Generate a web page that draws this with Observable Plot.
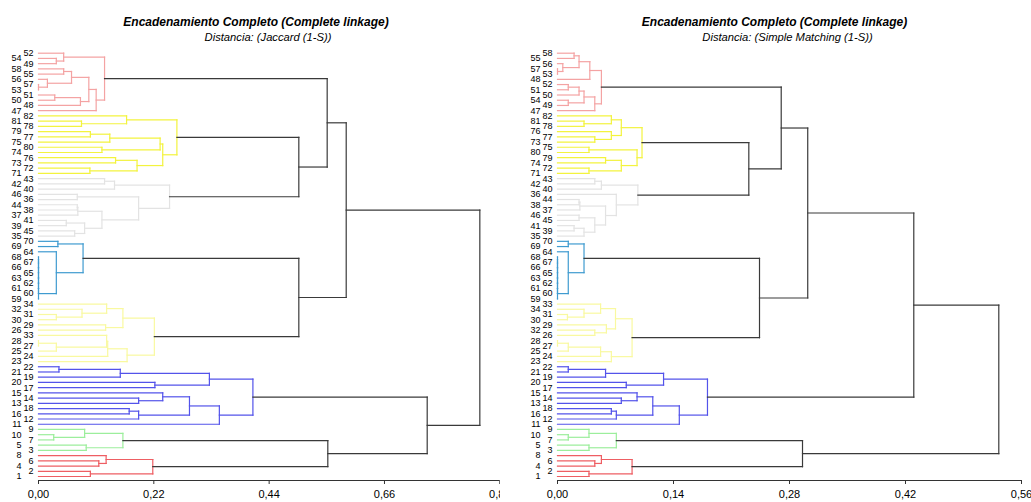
<!DOCTYPE html>
<html><head><meta charset="utf-8">
<script src="https://cdn.jsdelivr.net/npm/d3@7"></script>
<script src="https://cdn.jsdelivr.net/npm/@observablehq/plot@0.6"></script>
<style>
body{margin:0;background:#fff;font-family:"Liberation Sans",Arial,sans-serif;}
#wrap{position:relative;width:1031px;height:502px;overflow:hidden;background:#fff}
.panel{position:absolute;top:45px;height:457px;overflow:hidden}
.ttl{position:absolute;white-space:nowrap;transform:translateX(-50%);color:#000}
.t1{font-weight:bold;font-style:italic;font-size:12px;line-height:14px;top:15px}
.t2{font-style:italic;font-size:11.2px;line-height:13px;top:30.5px}
</style></head><body><div id="wrap"></div>
<script>
// ---------- data: Jaccard (left) ----------
const jacRed      = [0.218, [0.099, 1, 2], [0.129, [0.115, 4, 6], 8]];
const jacGreen    = [0.161, [0.091, 3, 5], [0.088, [0.029, 7, 10], 9]];
const jacBlue     = [0.409, [0.345, 11, [0.288, [0.191, 12, [0.173, 16, 18]], [0.237, [0.191, 13, 14], 15]]],
                            [0.326, [0.222, 17, 20], [0.156, 19, [0.039, 21, 22]]]];
const jacLtYellow = [0.221, [0.169, 23, [0.132, 24, [0.130, [0.034, 25, [0, 27, 28]], 33]]],
                            [0.161, [0.128, 26, 29], [0.130, [0.083, [0.034, 30, 31], 32], 34]]];
const jacTeal     = [0.085, [0.034, [0, 59, [0, 60, [0, 61, [0, 62, [0, 63, [0, 65, [0, 66, [0, 67, 68]]]]]]]], 64],
                            [0.037, 69, 70]];
const jacGrey     = [0.250, [0.191, [0.121, [0.088, [0.069, 35, 45], [0.053, 39, 41]], [0.075, 37, [0.074, 38, 44]]],
                            [0.074, 36, 46]], [0.145, 40, [0.126, 42, 43]]];
const jacYellow   = [0.264, [0.237, [0.188, [0.098, 71, 72], [0.147, 73, 76]],
                            [0.232, [0.121, 74, 80], [0.136, 75, [0.099, 77, 79]]]], [0.168, [0.082, 78, 81], 82]];
const jacPink     = [0.126, [0.110, 47, [0.096, [0.080, 48, [0.031, 50, 51]],
                            [0.063, [0.017, [0, 53, 57], 56], [0.048, 55, 58]]]], [0.048, [0.034, 49, 54], 52]];
// heights of the joins between clusters (left)
const jacJoins = {ltyTeal: 0.4966, greyYellow: 0.4966, pink: 0.5507, top: 0.587, redGreen: 0.5519, blue: 0.7415, root: 0.8419};

// ---------- data: Simple Matching (right) ----------
const smRed      = [0.090, [0.038, 1, 2], [0.053, [0.045, 4, 6], 8]];
const smGreen    = [0.071, [0.038, 3, 5], [0.038, [0.013, 7, 10], 9]];
const smBlue     = [0.181, [0.147, 11, [0.115, [0.071, 12, [0.065, 16, 18]], [0.096, [0.077, 13, 14], 15]]],
                           [0.128, [0.083, 17, 20], [0.058, 19, [0.013, 21, 22]]]];
const smLtYellow = [0.090, [0.065, 23, [0.052, 24, [0.013, 25, [0, 27, 28]]]],
                           [0.070, [0.059, [0.045, 26, 32], 29], [0.052, [0.032, [0.012, 30, 31], 34], 33]]];
const smTeal     = [0.032, [0.013, [0, 59, [0, 60, [0, 61, [0, 62, [0, 63, [0, 65, [0, 66, [0, 67, 68]]]]]]]], 64],
                           [0.013, 69, 70]];
const smGrey     = [0.097, [0.071, [0.058, [0.045, [0.032, 35, [0.020, 39, 41]], [0.026, 45, 46]],
                           [0.027, 37, [0.026, 38, 44]]], 36], [0.053, 40, [0.045, 42, 43]]];
const smYellow   = [0.102, [0.096, [0.077, [0.038, 71, 72], [0.058, 74, 79]], [0.038, 80, 75]],
                           [0.077, [0.065, [0.045, 73, 77], 76], [0.065, [0.032, 78, 81], 82]]];
const smPink     = [0.053, [0.045, 47, [0.032, [0.013, 49, 54], [0.026, 50, [0.013, 51, 52]]]],
                           [0.039, 48, [0.026, [0.0064, [0, 53, 57], 56], [0.020, 55, 58]]]];
const smJoins = {ltyTeal: 0.2438, greyYellow: 0.2309, pink: 0.270, top: 0.302, redGreen: 0.2957, blue: 0.430, root: 0.5326};

// tick labels
const jacTicks = [0, 0.22, 0.44, 0.66, 0.88];
const smTicks  = [0, 0.14, 0.28, 0.42, 0.56];

const clusterColors = ["#EE5E63", "#9CEE9C", "#5353EA", "#F9F9A0", "#3F9BD0", "#E3E3E3", "#F3F33E", "#F4A3A3"];
const joinColor = "#3a3a3a";

const titleText = "Encadenamiento Completo (Complete linkage)";
const subJac = "Distancia: (Jaccard (1-S))";
const subSM  = "Distancia: (Simple Matching (1-S))";

// ---------- build trees ----------
function assemble(cl, j) {
  const [r, g, b, ly, t, gr, y, p] = cl;
  return [j.root, [j.blue, [j.redGreen, r, g], b], [j.top, [j.ltyTeal, ly, t], [j.pink, [j.greyYellow, gr, y], p]]];
}
function assembleSM(cl, j) {
  const [r, g, b, ly, t, gr, y, p] = cl;
  return [j.root, [j.redGreen, r, g], [j.blue, b, [j.top, [j.ltyTeal, ly, t], [j.pink, [j.greyYellow, gr, y], p]]]];
}
function layout(root, clusters) {
  const colorOf = new Map(clusters.map((c, k) => [c, clusterColors[k]]));
  const segs = [], leaves = [];
  function walk(node, color) {
    if (typeof node === "number") {
      leaves.push({label: String(node), i: leaves.length});
      return {y: leaves.length - 1, h: 0};
    }
    const [h, a, b] = node;
    const c = colorOf.get(node) || color;
    const A = walk(a, c), B = walk(b, c);
    segs.push({x1: A.h, x2: h, y1: A.y, y2: A.y, stroke: c, black: c === joinColor});
    segs.push({x1: B.h, x2: h, y1: B.y, y2: B.y, stroke: c, black: c === joinColor});
    segs.push({x1: h, x2: h, y1: A.y, y2: B.y, stroke: c, black: c === joinColor});
    return {y: (A.y + B.y) / 2, h};
  }
  walk(root, joinColor);
  return {segs, leaves};
}

const fmt = d => d.toFixed(2).replace(".", ",");
function dendro(tree, clusters, ticks, opt) {
  const {segs, leaves} = layout(tree, clusters);
  const n = leaves.length;
  const yMin = -0.765;
  const xMax = ticks[ticks.length - 1];
  return Plot.plot({
    width: opt.width, height: 457,
    marginLeft: opt.ml, marginRight: opt.mr, marginTop: 7.7, marginBottom: 22,
    style: {fontFamily: "Liberation Sans, Arial, sans-serif", background: "#fff"},
    x: {domain: [0, xMax]},
    y: {domain: [yMin, n - 1], axis: null},
    color: {type: "identity"},
    marks: [
      Plot.ruleY([yMin], {x1: () => 0, x2: () => xMax, stroke: "#333", strokeWidth: 1}),
      Plot.axisX(ticks, {tickFormat: fmt, tickSize: 4, tickPadding: 6, fontSize: 11, label: null, stroke: "#333", fill: "#000"}),
      Plot.link(segs.filter(s => !s.black), {x1: "x1", x2: "x2", y1: "y1", y2: "y2", stroke: "stroke", strokeWidth: 1.2, strokeLinecap: "square"}),
      Plot.link(segs.filter(s => s.black), {x1: "x1", x2: "x2", y1: "y1", y2: "y2", stroke: "stroke", strokeWidth: 1.2, strokeLinecap: "square"}),
      Plot.text(leaves.filter(d => d.i % 2 === 0), {x: () => 0, y: "i", text: "label", textAnchor: "end", dx: -17, fontSize: 9, fill: "#000"}),
      Plot.text(leaves.filter(d => d.i % 2 === 1), {x: () => 0, y: "i", text: "label", textAnchor: "end", dx: -5, fontSize: 9, fill: "#000"})
    ]
  });
}

const jacClusters = [jacRed, jacGreen, jacBlue, jacLtYellow, jacTeal, jacGrey, jacYellow, jacPink];
const smClusters  = [smRed, smGreen, smBlue, smLtYellow, smTeal, smGrey, smYellow, smPink];

const wrap = document.getElementById("wrap");
function addTitle(txt, cls, cx) {
  const d = document.createElement("div");
  d.className = "ttl " + cls; d.style.left = cx + "px"; d.textContent = txt; wrap.appendChild(d);
}
addTitle(titleText, "t1", 256); addTitle(subJac, "t2", 268);
addTitle(titleText, "t1", 774.5); addTitle(subSM, "t2", 787.5);

const p1 = document.createElement("div"); p1.className = "panel"; p1.style.left = "0px"; p1.style.width = "500px";
p1.appendChild(dendro(assemble(jacClusters, jacJoins), jacClusters, jacTicks, {width: 500, ml: 38, mr: 0.7}));
const p2 = document.createElement("div"); p2.className = "panel"; p2.style.left = "500px"; p2.style.width = "531px";
p2.appendChild(dendro(assembleSM(smClusters, smJoins), smClusters, smTicks, {width: 531, ml: 57, mr: 10}));
wrap.appendChild(p1); wrap.appendChild(p2);
</script></body></html>
